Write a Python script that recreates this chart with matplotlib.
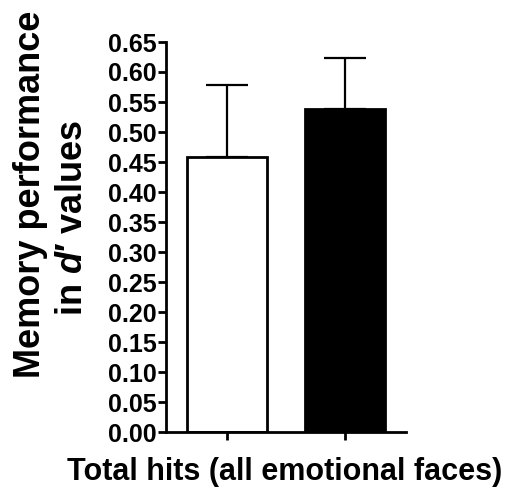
import matplotlib
matplotlib.use("Agg")
import matplotlib.pyplot as plt
import numpy as np

plt.rcParams['font.family'] = ['Liberation Sans', 'DejaVu Sans']
plt.rcParams['font.weight'] = 'bold'
plt.rcParams['mathtext.fontset'] = 'custom'
plt.rcParams['mathtext.bfit'] = 'Liberation Sans:italic:bold'
plt.rcParams['mathtext.rm'] = 'Liberation Sans:bold'

groups = ["Group 1", "Group 2"]
means = [0.458, 0.538]
errs = [0.120, 0.085]
face_colors = ["white", "black"]
yticks = np.arange(0, 0.651, 0.05)

W, H = 507, 493
fig = plt.figure(figsize=(W / 100, H / 100), dpi=100)
ax = fig.add_axes([166 / W, (H - 432) / H, 240 / W, 390 / H])

x = np.arange(len(groups))
ax.bar(x, means, width=0.68, color=face_colors, edgecolor="black", linewidth=2.0, zorder=2)
ax.errorbar(x, means, yerr=[np.zeros(len(errs)), errs], fmt='none', ecolor='black',
            elinewidth=1.6, capsize=14.8, capthick=1.6, zorder=1)

ax.set_xlim(-0.517, 1.517)
ax.set_ylim(0, 0.65)
ax.set_yticks(yticks)
ax.set_yticklabels([f"{v:.2f}" for v in yticks])
ax.set_xticks(x)
ax.set_xticklabels([])
for s in ['top', 'right']:
    ax.spines[s].set_visible(False)
for s in ['left', 'bottom']:
    ax.spines[s].set_linewidth(2.0)
ax.tick_params(axis='y', direction='out', length=6, width=2.0, labelsize=18, pad=1)
ax.tick_params(axis='x', direction='out', length=6, width=2.0)
for lab in ax.get_yticklabels():
    lab.set_fontweight('bold')

fig.text(285 / W, 1 - 472 / H, "Total hits (all emotional faces)", ha='center', va='center',
         fontsize=22, fontweight='bold')
fig.text(31 / W, 1 - 194 / H, "Memory performance", rotation=90, ha='center', va='center',
         fontsize=26, fontweight='bold')
fig.text(73 / W, 1 - 218 / H, r"in $\mathbfit{d}$′ values", rotation=90, ha='center', va='center',
         fontsize=26, fontweight='bold')

fig.savefig("out.png", dpi=100)
